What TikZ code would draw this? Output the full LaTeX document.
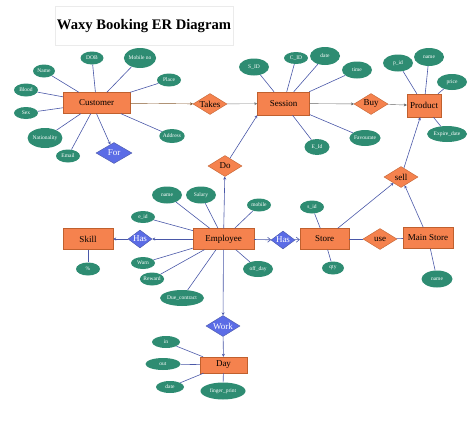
\documentclass[tikz,border=0pt]{standalone}
\usepackage{fontspec}
\setmainfont{Liberation Serif}
\usetikzlibrary{shapes.geometric,arrows.meta}

\definecolor{entfill}{HTML}{F5824E}
\definecolor{entline}{HTML}{C0602E}
\definecolor{attfill}{HTML}{2E8C72}
\definecolor{relblue}{HTML}{5B6CE6}
\definecolor{linkcol}{HTML}{4A58A8}

\tikzset{
  entity/.style={draw=entline, fill=entfill, rectangle, minimum width=#1, minimum height=21pt, inner sep=0pt, font=\fontsize{9}{10}\selectfont},
  entity/.default=50pt,
  attr/.style={ellipse, fill=attfill, text=white, inner sep=0pt, minimum width=24pt, minimum height=13pt, font=\fontsize{5.5}{6}\selectfont},
  rel/.style={diamond, draw=entline, fill=entfill, aspect=1.6, inner sep=0pt, minimum width=34pt, minimum height=21pt, font=\fontsize{9}{10}\selectfont},
  relb/.style={rel, draw=linkcol, fill=relblue, text=white},
  link/.style={draw=linkcol, line width=0.6pt},
  >={Stealth[length=3pt,width=3pt]}
}

\begin{document}
\begin{tikzpicture}[x=1pt, y=-1pt]
\useasboundingbox (0,0) rectangle (474,431);

% Title
\draw[draw=black!8] (55,6) rectangle (233,45);
\node (title) at (144,26) {\fontsize{14.6}{16}\selectfont\bfseries Waxy Booking ER Diagram};

% Entities
\node[entity=67pt] (customer) at (96.5,103) {Customer};
\node[entity=52pt, minimum height=23pt] (session) at (283.5,103.5) {Session};
\node[entity=34pt, minimum height=23pt] (product) at (424,105.5) {Product};
\node[entity=61pt] (employee) at (223.5,239) {Employee};
\node[entity=50pt] (skill) at (88,239) {Skill};
\node[entity=49pt] (store) at (324.5,239) {Store};
\node[entity=50pt] (mainstore) at (428,238) {Main Store};
\node[entity=47pt, minimum height=16pt] (day) at (223.5,365) {Day};

% Relations
\node[rel] (takes) at (210,104) {Takes};
\node[rel] (buy) at (371,104) {Buy};
\node[rel] (do) at (225,166) {Do};
\node[rel] (sell) at (401,177) {sell};
\node[rel] (use) at (380,239) {use};
\node[relb, minimum width=36pt, minimum height=21pt] (for) at (114,153) {For};
\node[relb, minimum width=24pt, minimum height=18pt] (hasskill) at (140,239) {Has};
\node[relb, minimum width=24pt, minimum height=18pt] (hasstore) at (283,240) {Has};
\node[relb] (work) at (223,326) {Work};

% Customer attributes
\node[attr, minimum width=23pt] (dob) at (92,58) {DOB};
\node[attr, minimum width=30pt, minimum height=20pt] (mobileno) at (140,58) {Mobile no};
\node[attr, minimum width=22pt] (cname) at (44,71) {Name};
\node[attr] (place) at (169,80) {Place};
\node[attr] (blood) at (26,90) {Blood};
\node[attr, minimum height=12pt] (sex) at (26,113) {Sex};
\node[attr, minimum width=33pt, minimum height=20pt] (nationality) at (45,138) {Nationality};
\node[attr] (email) at (68,156) {Email};
\node[attr, minimum height=14pt] (address) at (172,136) {Address};
\foreach \a in {dob,mobileno,cname,place,blood,sex,nationality,email,address}
  \draw[link] (customer) -- (\a);

% Session attributes
\node[attr, minimum width=30pt, minimum height=17pt] (sid) at (254,67) {S\_ID};
\node[attr, minimum height=12pt] (cid) at (296,58) {C\_ID};
\node[attr, minimum width=30pt, minimum height=18pt] (sdate) at (325,56) {date};
\node[attr, minimum width=30pt, minimum height=17pt] (time) at (357,70) {time};
\node[attr, minimum width=25pt, minimum height=16pt] (eid2) at (317,147) {E\_Id};
\node[attr, minimum width=29pt, minimum height=16pt] (fav) at (365,138) {Favourate};
\foreach \a in {sid,cid,sdate,time,eid2,fav}
  \draw[link] (session) -- (\a);

% Product attributes
\node[attr, minimum width=30pt, minimum height=17pt] (pid) at (398,63) {p\_id};
\node[attr, minimum width=30pt, minimum height=18pt] (pname) at (429,57) {name};
\node[attr, minimum width=30pt, minimum height=16pt] (price) at (452,82) {price};
\node[attr, minimum width=40pt, minimum height=16pt] (expire) at (447,134) {Expire\_date};
\foreach \a in {pid,pname,price,expire}
  \draw[link] (product) -- (\a);

% Employee attributes
\node[attr, minimum width=30pt, minimum height=17pt] (ename) at (167,195) {name};
\node[attr, minimum width=30pt, minimum height=17pt] (salary) at (201,195) {Salary};
\node[attr, minimum height=12pt] (eid) at (143,217) {e\_id};
\node[attr] (mobile) at (259,205) {mobile};
\node[attr, minimum height=12pt] (warn) at (143,263) {Warn};
\node[attr] (reward) at (152,279) {Reward};
\node[attr, minimum width=44pt, minimum height=16pt] (due) at (182,298) {Due\_contract};
\node[attr, minimum width=30pt, minimum height=16pt] (offday) at (258,269) {off\_day};
\foreach \a in {ename,salary,eid,mobile,warn,reward,due,offday}
  \draw[link] (employee) -- (\a);

% Skill, Store, Main Store attributes
\node[attr] (pct) at (88,269) {\%};
\draw[link] (skill) -- (pct);
\node[attr] (stid) at (312,207) {s\_id};
\node[attr, minimum width=22pt] (qty) at (333,268) {qty};
\draw[link] (store) -- (stid);
\draw[link] (store) -- (qty);
\node[attr, minimum width=31pt, minimum height=17pt] (msname) at (437,279) {name};
\draw[link] (mainstore) -- (msname);

% Day attributes
\node[attr, minimum width=28pt, minimum height=12pt] (din) at (166,342) {in};
\node[attr, minimum width=35pt, minimum height=12pt] (dout) at (163,364) {out};
\node[attr, minimum width=28pt, minimum height=12pt] (ddate) at (170,387) {date};
\node[attr, minimum width=45pt, minimum height=17pt] (finger) at (223,391) {finger\_print};
\foreach \a in {din,dout,ddate,finger}
  \draw[link] (day) -- (\a);

% Relations between entities
\draw[->, draw=brown!70!black] (customer) -- (takes);
\draw[->, draw=gray] (takes) -- (session);
\draw[->, link] (customer.south) -- (for);
\draw[->, draw=black!60] (session) -- (buy);
\draw[->, draw=black!60] (buy) -- (product);
\draw[->, link] (employee) -- (do);
\draw[->, link] (do) -- (session.south west);
\draw[->, link] (employee) -- (hasskill);
\draw[->, link] (hasskill) -- (skill);
\draw[-{Straight Barb[length=3pt,width=5pt]}, link] (employee) -- (hasstore);
\draw[-{Straight Barb[length=3pt,width=5pt]}, link] (hasstore) -- (store);
\draw[->, link] (store) -- (sell);
\draw[->, link] (mainstore) -- (sell);
\draw[->, link] (sell) -- (product);
\draw[link] (store) -- (use);
\draw[link] (use) -- (mainstore);
\draw[->, link] (employee) -- (work);
\draw[->, link] (work) -- (day);

\end{tikzpicture}
\end{document}
